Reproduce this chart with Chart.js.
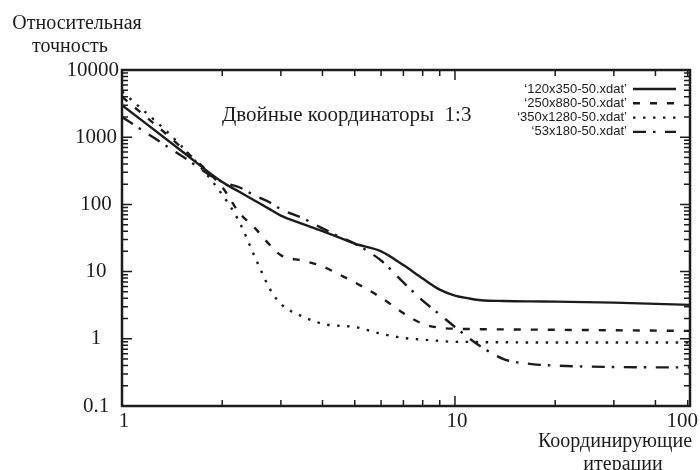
<!DOCTYPE html>
<html>
<head>
<meta charset="utf-8">
<script src="https://cdn.jsdelivr.net/npm/chart.js@4.4.1/dist/chart.umd.min.js"></script>
<style>
  html, body { margin: 0; padding: 0; background: #fff; }
  #wrap { width: 700px; height: 470px; }
</style>
</head>
<body>
<div id="wrap"><canvas id="accChart" width="700" height="470"></canvas></div>
<script>
// values (x axis ends at ~50.8 although the end label reads 100)
const iterations = [1, 1.5, 2, 2.25, 2.5, 2.8, 3, 3.5, 4, 4.5, 5, 6, 7, 8, 9, 10, 11, 12, 14, 17, 20, 30, 50.8];
const acc120x350 = [3000, 640, 215, 154, 114, 83, 68, 51, 40, 32, 26, 20, 12.5, 7.9, 5.4, 4.4, 4.0, 3.75, 3.65, 3.6, 3.58, 3.45, 3.2];
const acc250x880 = [4000, 720, 180, 75, 45, 24, 17.5, 14.5, 12, 9, 6.9, 4.1, 2.4, 1.67, 1.46, 1.41, 1.4, 1.39, 1.38, 1.37, 1.36, 1.34, 1.31];
const acc350x1280 = [4800, 760, 140, 55, 17, 5.2, 3.3, 2.13, 1.67, 1.56, 1.5, 1.19, 1.03, 0.97, 0.93, 0.9, 0.9, 0.89, 0.89, 0.88, 0.88, 0.88, 0.88];
const acc53x180 = [2000, 540, 215, 180, 136, 105, 85, 62, 44, 33, 26, 14.6, 6.9, 3.7, 2.3, 1.5, 1.03, 0.76, 0.5, 0.42, 0.40, 0.38, 0.375];
const seriesNames = ['‘120x350-50.xdat’', '‘250x880-50.xdat’', '‘350x1280-50.xdat’', '‘53x180-50.xdat’'];

const yTickValues = [0.1, 1, 10, 100, 1000, 10000];
const yTickLabels = ['0.1', '1', '10', '100', '1000', '10000'];
const xTickValues = [1, 10, 50.8];
const xTickLabels = ['1', '10', '100'];

const ink = '#1c1c1c';
const serif = '"Liberation Serif", "DejaVu Serif", serif';
const sans = '"Liberation Sans", Arial, sans-serif';

function pairs(ys) {
    return iterations.map((x, i) => ({ x: x, y: ys[i] }));
}

function makeSet(label, ys, dash) {
    return {
        label: label,
        data: pairs(ys),
        borderColor: ink,
        borderWidth: 2.4,
        borderDash: dash,
        pointRadius: 0,
        cubicInterpolationMode: 'monotone',
        fill: false
    };
}

// inward ticks, frame, labels and the key, like the gnuplot original
const frame = {
    id: 'frame',
    afterDatasetsDraw(chart) {
        const ctx = chart.ctx;
        const a = chart.chartArea;
        const x = chart.scales.x, y = chart.scales.y;
        ctx.save();
        ctx.strokeStyle = ink;
        ctx.fillStyle = ink;

        // minor / major ticks
        ctx.lineWidth = 1.5;
        ctx.beginPath();
        for (const d of [0.1, 1, 10, 100, 1000]) {
            for (let k = 1; k <= 9; k++) {
                const py = y.getPixelForValue(d * k);
                const len = k === 1 ? 10 : 6;
                ctx.moveTo(a.left, py); ctx.lineTo(a.left + len, py);
                ctx.moveTo(a.right, py); ctx.lineTo(a.right - len, py);
            }
        }
        for (const d of [1, 10]) {
            for (let k = 1; k <= 9; k++) {
                const v = d * k;
                if (v > x.max) break;
                const px = x.getPixelForValue(v);
                const len = k === 1 ? 10 : 6;
                ctx.moveTo(px, a.bottom); ctx.lineTo(px, a.bottom - len);
                ctx.moveTo(px, a.top); ctx.lineTo(px, a.top + len);
            }
        }
        ctx.stroke();

        ctx.lineWidth = 2.5;
        ctx.strokeRect(a.left, a.top, a.right - a.left, a.bottom - a.top);

        // tick labels
        ctx.font = '21px ' + serif;
        ctx.textBaseline = 'middle';
        ctx.textAlign = 'left';
        yTickValues.forEach((v, i) => {
            const w = ctx.measureText(yTickLabels[i]).width;
            const cx = Math.min(96, 119 - w / 2);
            ctx.fillText(yTickLabels[i], cx - w / 2, y.getPixelForValue(v));
        });
        xTickValues.forEach((v, i) => {
            const w = ctx.measureText(xTickLabels[i]).width;
            const cx = Math.min(x.getPixelForValue(v) + 2, chart.width - 2 - w / 2);
            ctx.fillText(xTickLabels[i], cx - w / 2, 421);
        });

        // axis titles and caption
        ctx.font = '20px ' + serif;
        ctx.textAlign = 'center';
        ctx.fillText('Относительная', 77, 24);
        ctx.fillText('точность', 70, 47);
        ctx.fillText('Координирующие', 615, 442);
        ctx.fillText('итерации', 623, 465);
        ctx.font = '21px ' + serif;
        ctx.textAlign = 'left';
        ctx.fillText('Двойные координаторы  1:3', 222, 115);

        // key
        ctx.font = '13px ' + sans;
        ctx.textAlign = 'right';
        chart.data.datasets.forEach((ds, i) => {
            const ly = 89 + i * 14.3;
            ctx.fillText(ds.label, 627, ly);
            ctx.beginPath();
            ctx.setLineDash(ds.borderDash || []);
            ctx.lineWidth = ds.borderWidth;
            ctx.moveTo(633, ly);
            ctx.lineTo(676, ly);
            ctx.stroke();
        });
        ctx.restore();
    }
};

const ctx = document.getElementById('accChart').getContext('2d');
const accChart = new Chart(ctx, {
    type: 'line',
    data: {
        datasets: [
            makeSet(seriesNames[0], acc120x350, []),
            makeSet(seriesNames[1], acc250x880, [7, 10]),
            makeSet(seriesNames[2], acc350x1280, [2.5, 7.5]),
            makeSet(seriesNames[3], acc53x180, [13, 7, 2.5, 9.5])
        ]
    },
    options: {
        responsive: false,
        devicePixelRatio: 1,
        animation: false,
        events: [],
        layout: { padding: { left: 122, right: 10, top: 70, bottom: 64 } },
        scales: {
            x: { type: 'logarithmic', min: 1, max: 50.8, display: false },
            y: { type: 'logarithmic', min: 0.1, max: 10000, display: false }
        },
        plugins: {
            legend: { display: false },
            tooltip: { enabled: false }
        }
    },
    plugins: [frame]
});
</script>
</body>
</html>
